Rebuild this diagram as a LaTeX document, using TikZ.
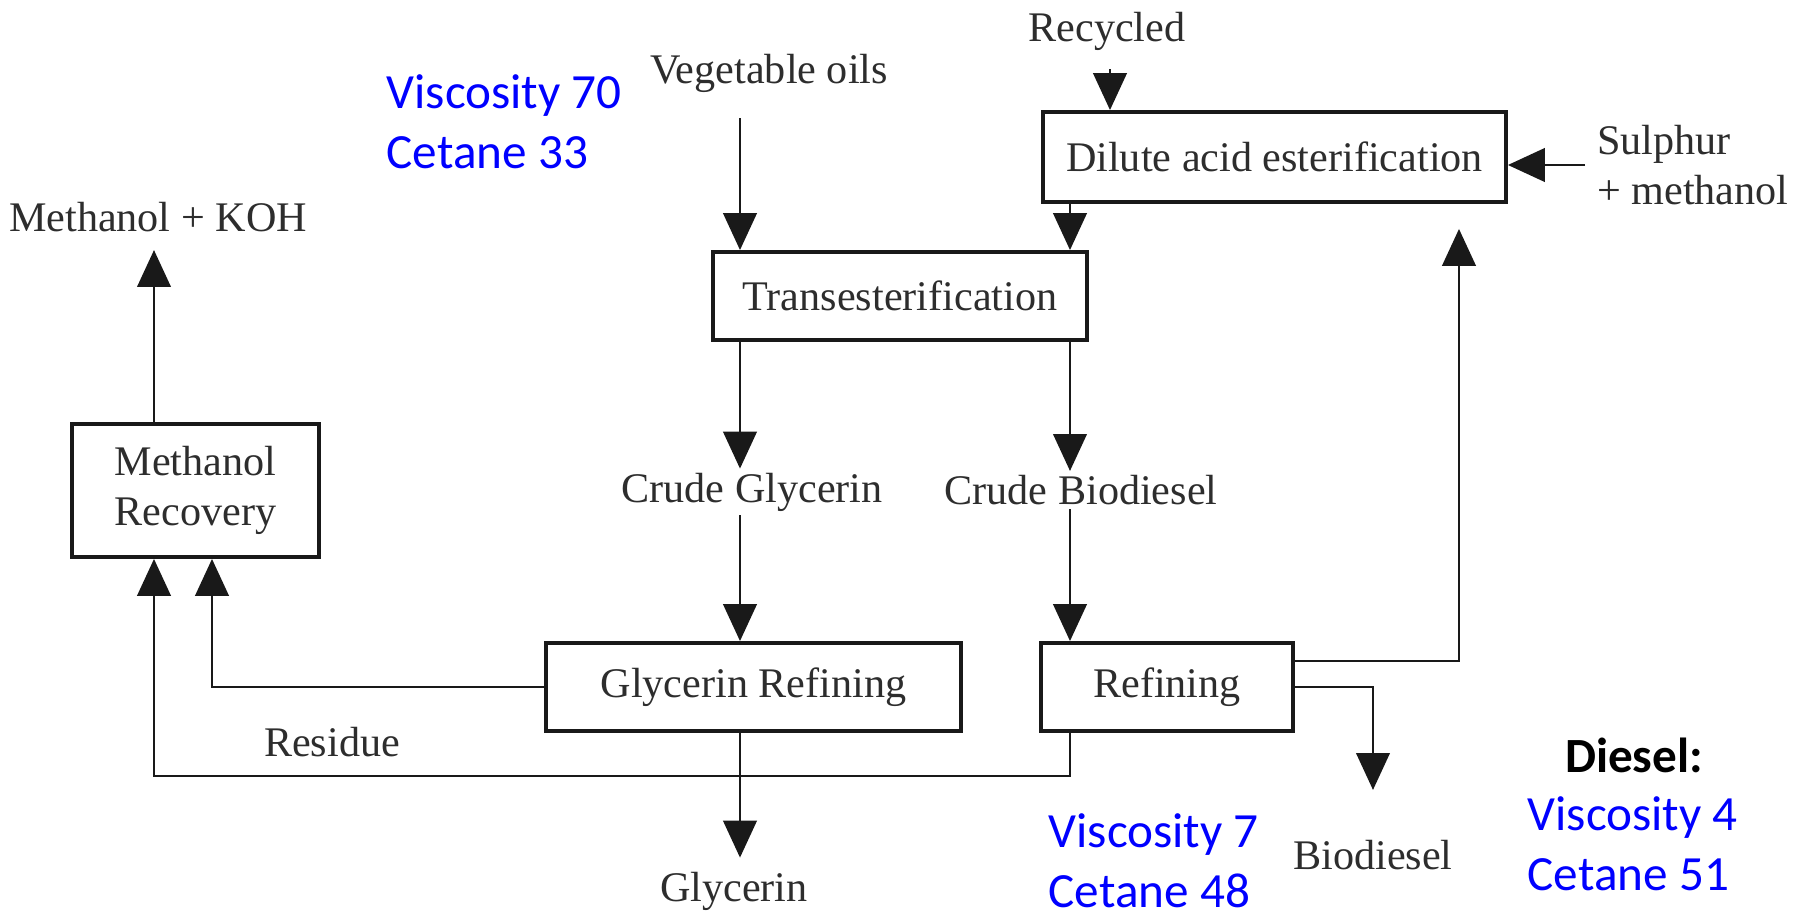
\documentclass[tikz,border=0pt]{standalone}
\usepackage{fontspec}
\setmainfont{Liberation Serif}
\newfontfamily\notefont{Carlito}
\usetikzlibrary{arrows.meta,calc}
\definecolor{inkgray} {RGB}{ 45, 45, 45}
\definecolor{noteblue}{RGB}{  0,  0,255}
\tikzset{
  %% Rectangular process step, plain dark frame
  procbox/.style={
    draw=black!90, line width=1.1pt, inner sep=0pt,
    align=center, text=inkgray, font=\fontsize{12}{14}\selectfont
  },
  %% Connector with a solid triangular head
  flow/.style={
    draw=black!90, line width=0.8pt,
    -{Triangle[length=10.5pt,width=9.5pt]}
  },
  flowlabel/.style={inner sep=1pt, text=inkgray, font=\fontsize{12}{14}\selectfont},
  bluenote/.style={
    inner sep=0pt, anchor=west, align=left, text=noteblue,
    font=\notefont\fontsize{14}{17}\selectfont
  },
}
\begin{document}
\begin{tikzpicture}[x=1cm, y=1cm, line join=miter]

  \useasboundingbox (0,0) rectangle (17.94,9.17);

  %% ── Guide x-positions for the vertical flows ─────────────────────────
  \coordinate (gx) at (7.40,0);    % glycerin line
  \coordinate (bx) at (10.70,0);   % biodiesel line
  \coordinate (rx) at (14.59,0);   % recycle riser
  \coordinate (kx) at (1.54,0);    % methanol riser / residue return
  \coordinate (mx) at (2.12,0);    % glycerin refining return

  %% ══════════════════════════════════════════════════════════════════════
  %%  PROCESS BOXES
  %% ══════════════════════════════════════════════════════════════════════
  \node[procbox, minimum width=4.63cm, minimum height=0.90cm]
        (dilute) at (12.745,7.60) {Dilute acid esterification};
  \node[procbox, minimum width=3.74cm, minimum height=0.88cm]
        (trans) at (9.00,6.21) {Transesterification};
  \node[procbox, minimum width=2.47cm, minimum height=1.33cm]
        (mrec) at (1.955,4.265) {Methanol\\Recovery};
  \node[procbox, minimum width=4.15cm, minimum height=0.88cm]
        (grefine) at (7.535,2.30) {Glycerin Refining};
  \node[procbox, minimum width=2.52cm, minimum height=0.88cm]
        (refine) at (11.67,2.30) {Refining};

  %% ── Stream labels ────────────────────────────────────────────────────
  \node[flowlabel] (recycled) at (11.07,8.86) {Recycled};
  \node[flowlabel] (vegoil)   at (7.69,8.44)  {Vegetable oils};
  \node[flowlabel] (koh)      at (1.58,7.00)  {Methanol + KOH};
  \node[flowlabel, anchor=west, align=left]
        (sulphur) at (15.93,7.52) {Sulphur\\+ methanol};
  \node[flowlabel] (cglyc)    at (7.52,4.25)  {Crude Glycerin};
  \node[flowlabel] (cbio)     at (10.81,4.27) {Crude Biodiesel};
  \node[flowlabel] (residue)  at (3.32,1.75)  {Residue};
  \node[flowlabel] (glyc)     at (7.34,0.26)  {Glycerin};
  \node[flowlabel] (biodsl)   at (13.73,0.62) {Biodiesel};

  %% ══════════════════════════════════════════════════════════════════════
  %%  FLOWS
  %% ══════════════════════════════════════════════════════════════════════
  \draw[flow, shorten <=0.22cm] (vegoil.south -| gx) -- (trans.north -| gx);
  \draw[flow, shorten <=0.15cm] (recycled.south -| 11.10,0) -- (dilute.north -| 11.10,0);
  \draw[flow, shorten <=0.08cm] (sulphur.west) -- (sulphur.west -| dilute.east);
  \draw[flow] (dilute.south -| bx) -- (trans.north -| bx);

  \draw[flow] (trans.south -| gx) -- (cglyc.north -| gx);
  \draw[flow] (trans.south -| bx) -- (cbio.north -| bx);
  \draw[flow] (cglyc.south -| gx) -- (grefine.north -| gx);
  \draw[flow] (cbio.south -| bx)  -- (refine.north -| bx);

  \draw[flow, shorten >=0.10cm] (grefine.south -| gx) -- (glyc.north -| gx);

  %% Recycle to esterification and product take-off
  \draw[flow, shorten >=0.25cm]
        ([yshift=0.26cm]refine.east) -| (dilute.south -| rx);
  \draw[flow, shorten >=0.46cm] (refine.east) -| (biodsl.north);

  %% Returns to methanol recovery
  \draw[flow] (refine.south -| bx) -- ++(0,-0.43) -| (mrec.south -| kx);
  \draw[flow] (grefine.west) -| (mrec.south -| mx);
  \draw[flow, shorten >=0.14cm] (mrec.north -| kx) -- (koh.south -| kx);

  %% ══════════════════════════════════════════════════════════════════════
  %%  FUEL PROPERTY NOTES
  %% ══════════════════════════════════════════════════════════════════════
  \node[bluenote] (oilnote) at (3.86,7.95)  {Viscosity 70\\Cetane 33};
  \node[bluenote] (bionote) at (10.48,0.56) {Viscosity 7\\Cetane 48};
  \node[font=\notefont\bfseries\fontsize{14}{17}\selectfont]
        (diesel) at (16.34,1.62) {Diesel:};
  \node[bluenote] (dslnote) at (15.27,0.73) {Viscosity 4\\Cetane 51};

\end{tikzpicture}
\end{document}
